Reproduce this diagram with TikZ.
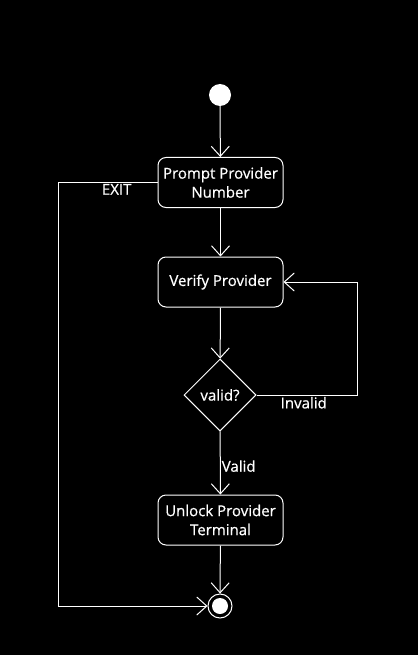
\documentclass[tikz,border=0pt]{standalone}
\usepackage{fontspec}
\setmainfont{Open Sans}[FakeBold=0.6]
\usetikzlibrary{arrows.meta,shapes.geometric}
\tikzset{
  fg/.style={draw=white, line width=1pt},
  box/.style={fg, rounded corners=8pt, minimum width=125pt, minimum height=50pt, text=white, align=center, inner sep=2pt},
  decision/.style={fg, diamond, minimum width=72pt, minimum height=72pt, inner sep=0pt, text=white},
  startnode/.style={circle, fill=white, minimum size=22pt, inner sep=0pt},
  endnode/.style={circle, fg, minimum size=24pt, inner sep=0pt, path picture={\fill[white] (path picture bounding box.center) circle (8pt);}},
  arr/.style={fg, -{Straight Barb[length=10pt,width=18pt,line width=1pt]}},
  lbl/.style={text=white, inner sep=1pt}
}
\begin{document}
\begin{tikzpicture}[x=1pt,y=-1pt, font=\fontsize{15}{19}\selectfont]
\fill[black] (0,0) rectangle (418,655);
\useasboundingbox (0,0) rectangle (418,655);
\node[startnode] (start) at (220,95) {};
\node[box] (prompt) at (220.5,182.5) {Prompt Provider\\Number};
\node[box] (verify) at (220.5,282) {Verify Provider};
\node[decision] (valid) at (220,395) {valid?};
\node[box] (unlock) at (220.5,520) {Unlock Provider\\Terminal};
\node[endnode] (end) at (220,606) {};
\coordinate (ir) at (357,282);
\coordinate (el) at (58,182);
\draw[arr] (start) -- (prompt);
\draw[arr] (prompt) -- (verify);
\draw[arr] (verify) -- (valid);
\draw[arr] (valid) -- node[lbl, right, pos=0.55] {Valid} (unlock);
\draw[arr] (unlock) -- (end);
\draw[arr] (valid.east) -- node[lbl, below, pos=0.47, yshift=-0.5pt] {Invalid} (ir |- valid.east) -- (ir) -- (verify.east);
\draw[arr] (prompt.west |- el) -- node[lbl, below, pos=0.41, yshift=-0.5pt] {EXIT} (el) |- (end.west);
\end{tikzpicture}
\end{document}
